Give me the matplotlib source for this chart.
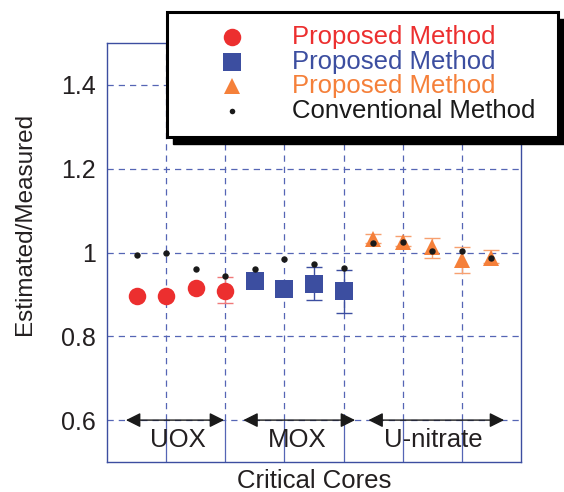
import matplotlib
matplotlib.use("Agg")
import matplotlib.pyplot as plt
from matplotlib.lines import Line2D
from matplotlib.patches import Rectangle

plt.rcParams['font.family'] = ['Liberation Sans', 'DejaVu Sans']

# data
uox_x = [1, 2, 3, 4]
uox_y = [0.896, 0.896, 0.915, 0.908]
uox_lo = [0.0, 0.0, 0.0, 0.029]
uox_hi = [0.0, 0.0, 0.0, 0.034]

mox_x = [5, 6, 7, 8]
mox_y = [0.931, 0.914, 0.925, 0.907]
mox_lo = [0.0, 0.0, 0.038, 0.051]
mox_hi = [0.0, 0.0, 0.041, 0.052]

unit_x = [9, 10, 11, 12, 13]
unit_y = [1.033, 1.026, 1.014, 0.981, 0.988]
unit_lo = [0.010, 0.010, 0.028, 0.031, 0.012]
unit_hi = [0.012, 0.014, 0.021, 0.033, 0.018]

conv_x = list(range(1, 14))
conv_y = [0.995, 1.000, 0.961, 0.944, 0.961, 0.985, 0.973, 0.962,
          1.022, 1.026, 1.003, 1.003, 0.987]

groups = ['UOX', 'MOX', 'U-nitrate']
group_span = [(0.64, 3.96), (4.61, 8.39), (8.84, 13.43)]
group_label_x = [2.4, 6.43, 11.03]

yticks = [0.6, 0.8, 1.0, 1.2, 1.4]
ytick_labels = ['0.6', '0.8', '1', '1.2', '1.4']
xgrid = [2, 4, 6, 8, 10, 12]

red = '#ec2f2f'
blue = '#3c4ea0'
orange = '#f5803a'
dark = '#231f20'
gridc = '#5565b5'

W, H = 564, 492
fig = plt.figure(figsize=(W / 100, H / 100), dpi=100)
ax = fig.add_axes([107 / W, 1 - 462 / H, (521 - 107) / W, (462 - 43) / H])
ax.set_xlim(0, 14)
ax.set_ylim(0.5, 1.5)

for s in ax.spines.values():
    s.set_color(blue)
    s.set_linewidth(1.0)

ax.set_xticks([])
ax.set_yticks(yticks)
ax.set_yticklabels(ytick_labels)
ax.tick_params(axis='y', length=0, pad=8, labelsize=18, labelcolor=dark)

# grid: dashed above 0.6, solid below
ax.hlines(yticks, 0, 14, colors=gridc, linestyles=(0, (5, 4)), linewidth=0.9, zorder=1)
ax.vlines(xgrid, 0.6, 1.5, colors=gridc, linestyles=(0, (5, 4)), linewidth=0.9, zorder=1)
ax.vlines(xgrid, 0.5, 0.6, colors=gridc, linestyles='solid', linewidth=0.9, zorder=1)

# error bars
ax.errorbar(uox_x, uox_y, yerr=[uox_lo, uox_hi], fmt='none', ecolor='#f07a7a',
            elinewidth=1.0, capsize=6, capthick=1.0, zorder=2)
ax.errorbar(mox_x, mox_y, yerr=[mox_lo, mox_hi], fmt='none', ecolor=blue,
            elinewidth=1.0, capsize=6, capthick=1.0, zorder=2)
ax.errorbar(unit_x, unit_y, yerr=[unit_lo, unit_hi], fmt='none', ecolor='#f7a070',
            elinewidth=1.0, capsize=6, capthick=1.0, zorder=2)

# proposed method markers
ax.plot(uox_x, uox_y, 'o', color=red, markersize=12.6, markeredgewidth=0, zorder=3)
ax.plot(mox_x, mox_y, 's', color=blue, markersize=12.4, markeredgewidth=0, zorder=3)
ax.plot(unit_x, unit_y, '^', color=orange, markersize=12.2, markeredgewidth=0, zorder=3)

# conventional method
ax.plot(conv_x, conv_y, 'o', color='#1a1a1a', markersize=4.6, markeredgewidth=0, zorder=4)

# group arrows and labels
for name, (x0, x1), lx in zip(groups, group_span, group_label_x):
    ax.annotate('', xy=(x0, 0.6), xytext=(x1, 0.6),
                arrowprops=dict(arrowstyle='<|-|>', color='#1a1a1a', lw=1.0,
                                mutation_scale=22, shrinkA=0, shrinkB=0),
                zorder=5)
    ax.text(lx, 0.553, name, ha='center', va='center', fontsize=18.5, color=dark)

ax.set_xlabel('Critical Cores', fontsize=18.5, color=dark, labelpad=5)
ax.set_ylabel('Estimated/Measured', fontsize=17.5, color=dark, labelpad=18)
ax.yaxis.label.set_y(0.567)


# legend drawn in figure pixels
def fx(px):
    return px / W


def fy(py):
    return 1 - py / H


lx0, ly0, lx1, ly1 = 167, 12, 558, 137
sh = 6
fig.add_artist(Rectangle((fx(lx0 + sh), fy(ly1 + sh + 1)), fx(lx1 - lx0), (ly1 - ly0) / H,
                         transform=fig.transFigure, facecolor='black',
                         edgecolor='black', zorder=10))
fig.add_artist(Rectangle((fx(lx0), fy(ly1)), fx(lx1 - lx0), (ly1 - ly0) / H,
                         transform=fig.transFigure, facecolor='white',
                         edgecolor='black', linewidth=2.2, zorder=11))

leg_rows = [
    ('o', red, 12.6, 'Proposed Method', red, 37),
    ('s', blue, 12.4, 'Proposed Method', blue, 62),
    ('^', orange, 12.2, 'Proposed Method', orange, 86),
    ('o', '#1a1a1a', 4.0, 'Conventional Method', '#1a1a1a', 111),
]
for mk, mc, ms, lab, tc, py in leg_rows:
    fig.add_artist(Line2D([fx(232)], [fy(py)], marker=mk, color=mc, markersize=ms,
                          markeredgewidth=0, linestyle='none',
                          transform=fig.transFigure, zorder=12))
    fig.text(fx(292), fy(py), lab, color=tc, fontsize=18.5, ha='left',
             va='center', zorder=12)

fig.savefig('out.png', dpi=100)
